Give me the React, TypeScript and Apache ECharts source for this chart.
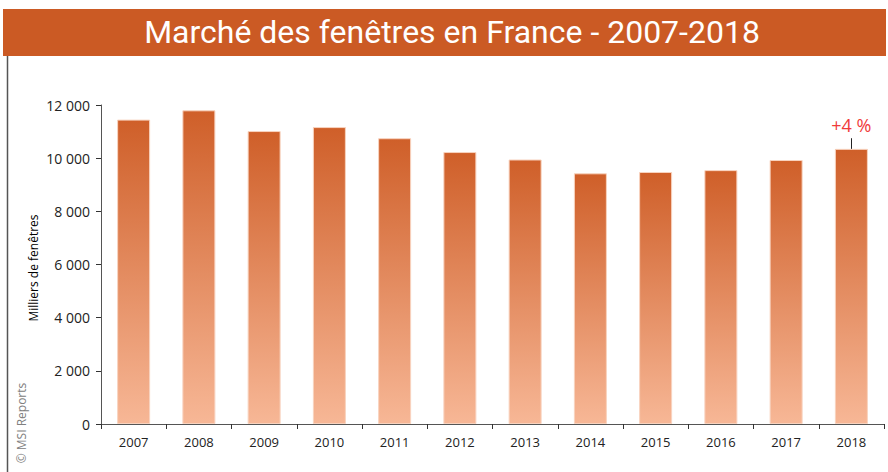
import React, { useEffect, useRef } from "react";
import * as echarts from "echarts";

const years = ["2007", "2008", "2009", "2010", "2011", "2012", "2013", "2014", "2015", "2016", "2017", "2018"];
const values = [11450, 11800, 11020, 11170, 10750, 10230, 9950, 9430, 9480, 9550, 9930, 10350];
const yTicks = [0, 2000, 4000, 6000, 8000, 10000, 12000];
const titleText = "Marché des fenêtres en France - 2007-2018";
const yAxisName = "Milliers de fenêtres";
const copyright = "© MSI Reports";
const lastChangeLabel = "+4 %";

const fmt = (v: number) => {
  const s = String(Math.round(v));
  return s.replace(/\B(?=(\d{3})+(?!\d))/g, " ");
};

export default function App() {
  const ref = useRef<HTMLDivElement>(null);
  useEffect(() => {
    if (!ref.current) return;
    const chart = echarts.init(ref.current, undefined, { renderer: "svg" });
    const lastIdx = values.length - 1;
    chart.setOption({
      animation: false,
      backgroundColor: "#ffffff",
      textStyle: { fontFamily: "'Open Sans', 'Noto Sans', sans-serif" },
      graphic: [
        {
          type: "rect",
          shape: { x: 3, y: 9, width: 883, height: 47 },
          style: { fill: "#CB5A24" },
          z: 10,
        },
        {
          type: "text",
          x: 452,
          y: 32,
          style: {
            text: titleText,
            fill: "#ffffff",
            font: "400 32px Roboto",
            textAlign: "center",
            textVerticalAlign: "middle",
          },
          z: 11,
        },
        {
          type: "line",
          shape: { x1: 7.5, y1: 56, x2: 7.5, y2: 472 },
          style: { stroke: "#555555", lineWidth: 1.5 },
        },
        {
          type: "text",
          x: 21,
          y: 423,
          rotation: Math.PI / 2,
          style: {
            text: copyright,
            fill: "#808080",
            font: "12px 'Open Sans'",
            textAlign: "center",
            textVerticalAlign: "middle",
          },
        },
        {
          type: "text",
          x: 33,
          y: 268,
          rotation: Math.PI / 2,
          style: {
            text: yAxisName,
            fill: "#000000",
            font: "12px 'Open Sans'",
            textAlign: "center",
            textVerticalAlign: "middle",
          },
        },
      ],
      grid: { left: 101, right: 4, top: 105, bottom: 48, containLabel: false },
      xAxis: {
        type: "category",
        data: years,
        axisLine: { show: true, lineStyle: { color: "#555555", width: 1 } },
        axisTick: { show: true, alignWithLabel: false, length: 5, lineStyle: { color: "#333333" } },
        axisLabel: { color: "#222222", fontSize: 13, margin: 11 },
      },
      yAxis: {
        type: "value",
        min: yTicks[0],
        max: yTicks[yTicks.length - 1],
        interval: 2000,
        axisLine: { show: true, lineStyle: { color: "#555555", width: 1 } },
        axisTick: { show: true, length: 5, lineStyle: { color: "#333333" } },
        axisLabel: { color: "#222222", fontSize: 14, margin: 11, formatter: (v: number) => fmt(v) },
        splitLine: { show: false },
      },
      series: [
        {
          type: "bar",
          barWidth: 33,
          data: values.map((v, i) =>
            i === lastIdx
              ? {
                  value: v,
                  label: {
                    show: true,
                    position: "top",
                    distance: 15,
                    formatter: lastChangeLabel,
                    color: "#F03A3A",
                    fontSize: 18,
                    fontFamily: "'Open Sans'",
                  },
                }
              : v
          ),
          itemStyle: {
            color: new echarts.graphic.LinearGradient(0, 0, 0, 1, [
              { offset: 0, color: "#CF5F29" },
              { offset: 1, color: "#F7B796" },
            ]),
            borderColor: "#F8D3BF",
            borderWidth: 1,
          },
          markLine: {
            silent: true,
            symbol: "none",
            label: { show: false },
            lineStyle: { color: "#222222", width: 1, type: "solid" },
            data: [
              [
                { coord: [years[lastIdx], values[lastIdx]] },
                { coord: [years[lastIdx], values[lastIdx] + 400] },
              ],
            ],
          },
        },
      ],
    });
    return () => chart.dispose();
  }, []);
  return (
    <div
      ref={ref}
      style={{ position: "fixed", left: 0, top: 0, width: 888, height: 472 }}
    />
  );
}
